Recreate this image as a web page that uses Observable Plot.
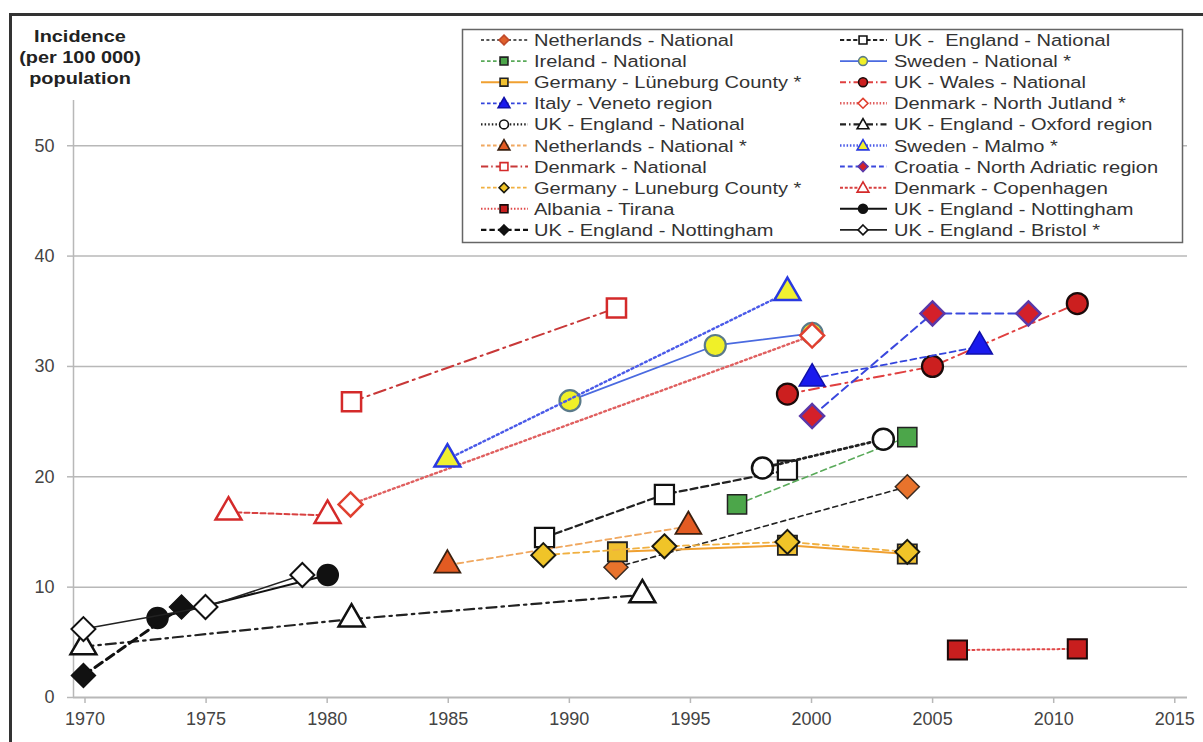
<!DOCTYPE html>
<html><head><meta charset="utf-8">
<script src="https://cdn.jsdelivr.net/npm/d3@7"></script>
<script src="https://cdn.jsdelivr.net/npm/@observablehq/plot@0.6"></script>
<style>
html,body{margin:0;padding:0;background:#fff;}
#wrap{position:relative;width:1203px;height:742px;overflow:hidden;font-family:"Liberation Sans",Arial,sans-serif;background:#fff;}
#frame{position:absolute;left:9px;top:13px;width:1300px;height:800px;border-left:3px solid #333;border-top:3px solid #333;}
#chart{position:absolute;left:0;top:0;}
#title{position:absolute;left:0;top:26px;width:160px;text-align:center;font-weight:bold;font-size:17px;line-height:21px;color:#222;transform:scaleX(1.17);transform-origin:80px 0;}
#legend{position:absolute;left:0;top:0;}
</style></head>
<body>
<div id="wrap">
  <div id="frame"></div>
  <div id="chart"></div>
  <div id="title">Incidence<br>(per 100 000)<br>population</div>
  <svg id="legend" width="1203" height="250"></svg>
</div>
<script>
// ---- data ----
const seriesNames = [
  "Netherlands - National", "UK -  England - National",
  "Ireland - National", "Sweden - National *",
  "Germany - Lüneburg County *", "UK - Wales - National",
  "Italy - Veneto region", "Denmark - North Jutland *",
  "UK - England - National", "UK - England - Oxford region",
  "Netherlands - National *", "Sweden - Malmo *",
  "Denmark - National", "Croatia - North Adriatic region",
  "Germany - Luneburg County *", "Denmark - Copenhagen",
  "Albania - Tirana", "UK - England - Nottingham",
  "UK - England - Nottingham", "UK - England - Bristol *"
];
const seriesYears = [
  [1992.4, 2004.43],
  [1989.45, 1994.4, 1999.48],
  [1997.4, 2004.43],
  [1990.5, 1996.5, 2000.5],
  [1992.46, 1999.48, 2004.43],
  [1999.48, 2005.47, 2011.45],
  [2000.5, 2007.41],
  [1981.44, 2000.5],
  [1998.45, 2003.44],
  [1970.41, 1981.48, 1993.49],
  [1985.44, 1995.39],
  [1985.44, 1999.48],
  [1981.48, 1992.42],
  [2000.5, 2005.47, 2009.43],
  [1989.4, 1994.4, 1999.48, 2004.43],
  [1976.4, 1980.49],
  [2006.5, 2011.45],
  [1973.47, 1980.5],
  [1970.41, 1974.46],
  [1970.41, 1975.45, 1979.45]
];
const seriesValues = [
  [11.8, 19.1],
  [14.5, 18.4, 20.6],
  [17.5, 23.6],
  [26.9, 31.9, 33.0],
  [13.2, 13.8, 13.0],
  [27.5, 30.0, 35.7],
  [28.9, 31.8],
  [17.5, 32.8],
  [20.8, 23.4],
  [4.6, 7.1, 9.3],
  [12.0, 15.5],
  [21.6, 36.7],
  [26.8, 35.3],
  [25.5, 34.8, 34.8],
  [12.9, 13.7, 14.1, 13.2],
  [16.8, 16.5],
  [4.3, 4.4],
  [7.2, 11.1],
  [2.0, 8.2],
  [6.2, 8.2, 11.1]
];
const xTicks = [1970, 1975, 1980, 1985, 1990, 1995, 2000, 2005, 2010, 2015];
const yTicks = [0, 10, 20, 30, 40, 50];

// ---- styles ----
const styles = [
  {line:"#222", dash:"5,4", lw:1.6, sym:"diamond", fill:"#e8732c", ms:"#3a2a20", mw:1.5, lfill:"#e0602c", lms:"#c04a2a"},
  {line:"#222", dash:"7,4", lw:2.2, sym:"square", fill:"#fff", ms:"#111", mw:2.2},
  {line:"#5aaa5a", dash:"6,4", lw:1.6, sym:"square", fill:"#4ca64a", ms:"#222", mw:1.5},
  {line:"#4a6ae0", dash:null, lw:1.8, sym:"circle", fill:"#f0f028", ms:"#5a7a8a", mw:2.2},
  {line:"#f0a030", dash:null, lw:2, sym:"square", fill:"#f0c030", ms:"#222", mw:1.8},
  {line:"#e04040", dash:"10,5,2,5", lw:2, sym:"circle", fill:"#cc1f1f", ms:"#1a0a0a", mw:2.2},
  {line:"#3344dd", dash:"6,4", lw:1.8, sym:"triangle", fill:"#1a1aee", ms:"#1010aa", mw:1.5},
  {line:"#e06060", dash:"2,3", lw:2.4, sym:"diamond", fill:"#fff", ms:"#e04030", mw:2.5},
  {line:"#222", dash:"2.5,3.5", lw:2.8, sym:"circle", fill:"#fff", ms:"#111", mw:2.5},
  {line:"#222", dash:"10,5,2.5,5", lw:2.2, sym:"triangle", fill:"#fff", ms:"#111", mw:2.5},
  {line:"#f0a860", dash:"6,4", lw:1.8, sym:"triangle", fill:"#e35b22", ms:"#3a2010", mw:1.8},
  {line:"#4a5ae8", dash:"2,3", lw:2.4, sym:"triangle", fill:"#f0f030", ms:"#2a3ae0", mw:2.5},
  {line:"#c83838", dash:"12,5,2,5", lw:2, sym:"square", fill:"#fff", ms:"#d42a2a", mw:2.5},
  {line:"#3a48dd", dash:"8,5", lw:2, sym:"diamond", fill:"#d4202a", ms:"#5a38a8", mw:2.5},
  {line:"#f0b040", dash:"6,4", lw:1.8, sym:"diamond", fill:"#f0c428", ms:"#1a1a10", mw:2},
  {line:"#d84040", dash:"5,3", lw:2, sym:"triangle", fill:"#fff", ms:"#d42a2a", mw:2.5},
  {line:"#e04848", dash:"2,3", lw:2, sym:"square", fill:"#c81e1e", ms:"#1a0a0a", mw:2},
  {line:"#111", dash:null, lw:2, sym:"circle", fill:"#111", ms:"#111", mw:1.5},
  {line:"#111", dash:"9,5", lw:3, sym:"diamond", fill:"#111", ms:"#111", mw:1.5},
  {line:"#222", dash:null, lw:1.6, sym:"diamond", fill:"#fff", ms:"#111", mw:2}
];
const symObj = {circle: d3.symbolCircle, square: d3.symbolSquare, diamond: d3.symbolDiamond2, triangle: d3.symbolTriangle};
const symR = {circle: 10.5, square: 10.8, diamond: 10.8, triangle: 9.6};

// ---- chart ----
const gridColor = "#b8b8b8";
const marks = [
  Plot.ruleY([10, 20, 30, 40, 50], {stroke: gridColor, strokeWidth: 1.5}),
  Plot.ruleY([0], {stroke: gridColor, strokeWidth: 2}),
  Plot.ruleX([1970], {y1: 0, y2: 54.1, stroke: gridColor, strokeWidth: 1.5}),
  Plot.axisX({ticks: xTicks, tickSize: 6, tickPadding: 9, stroke: gridColor, strokeWidth: 1.5, fill: "#444", fontSize: 18, dx: 11.5, tickFormat: d => String(d), label: null}),
  Plot.axisY({ticks: yTicks, tickSize: 6, tickPadding: 13, stroke: gridColor, strokeWidth: 1.5, fill: "#444", fontSize: 18, label: null})
];
seriesNames.forEach((name, i) => {
  const pts = seriesYears[i].map((yr, j) => ({year: yr, value: seriesValues[i][j], name}));
  const s = styles[i];
  marks.push(Plot.line(pts, {x: "year", y: "value", stroke: s.line, strokeWidth: s.lw, strokeDasharray: s.dash || undefined}));
  marks.push(Plot.dot(pts, {x: "year", y: "value", symbol: symObj[s.sym], r: symR[s.sym], fill: s.fill, stroke: s.ms, strokeWidth: s.mw}));
});

const chart = Plot.plot({
  width: 1203, height: 742,
  marginTop: 100, marginRight: 16, marginBottom: 45, marginLeft: 73,
  x: {domain: [1970, 2016]},
  y: {domain: [0, 54.1]},
  style: {fontFamily: "'Liberation Sans', Arial, sans-serif", background: "transparent", overflow: "visible"},
  marks
});
document.getElementById("chart").appendChild(chart);

// ---- legend ----
const lg = d3.select("#legend");
lg.append("rect").attr("x", 462.5).attr("y", 29.5).attr("width", 720).attr("height", 213)
  .attr("fill", "#fff").attr("stroke", "#666").attr("stroke-width", 1.5);
const legendDash = d => d ? d.split(",").map(v => Math.max(1.5, +v * 0.6)).join(",") : null;
seriesNames.forEach((name, i) => {
  const s = styles[i];
  const col = i % 2, row = Math.floor(i / 2);
  const cy = 40 + row * 21.1;
  const x0 = col ? 840 : 481, x1 = col ? 887 : 528, mx = col ? 863 : 504, tx = col ? 894 : 534;
  lg.append("line").attr("x1", x0).attr("x2", x1).attr("y1", cy).attr("y2", cy)
    .attr("stroke", s.line).attr("stroke-width", Math.min(s.lw, 2.4))
    .attr("stroke-dasharray", legendDash(s.dash));
  const size = s.sym === "triangle" ? 60 : 62;
  lg.append("path").attr("d", d3.symbol().type(symObj[s.sym]).size(size)())
    .attr("transform", `translate(${mx},${cy + (s.sym === "triangle" ? 1 : 0)})`)
    .attr("fill", s.lfill || s.fill).attr("stroke", s.lms || s.ms).attr("stroke-width", 1.6);
  lg.append("text").attr("transform", `translate(${tx},${cy + 6}) scale(1.18,1)`)
    .attr("font-size", 17).attr("fill", "#333").style("white-space", "pre")
    .attr("font-family", "'Liberation Sans', Arial, sans-serif")
    .text(name);
});
</script>
</body></html>
